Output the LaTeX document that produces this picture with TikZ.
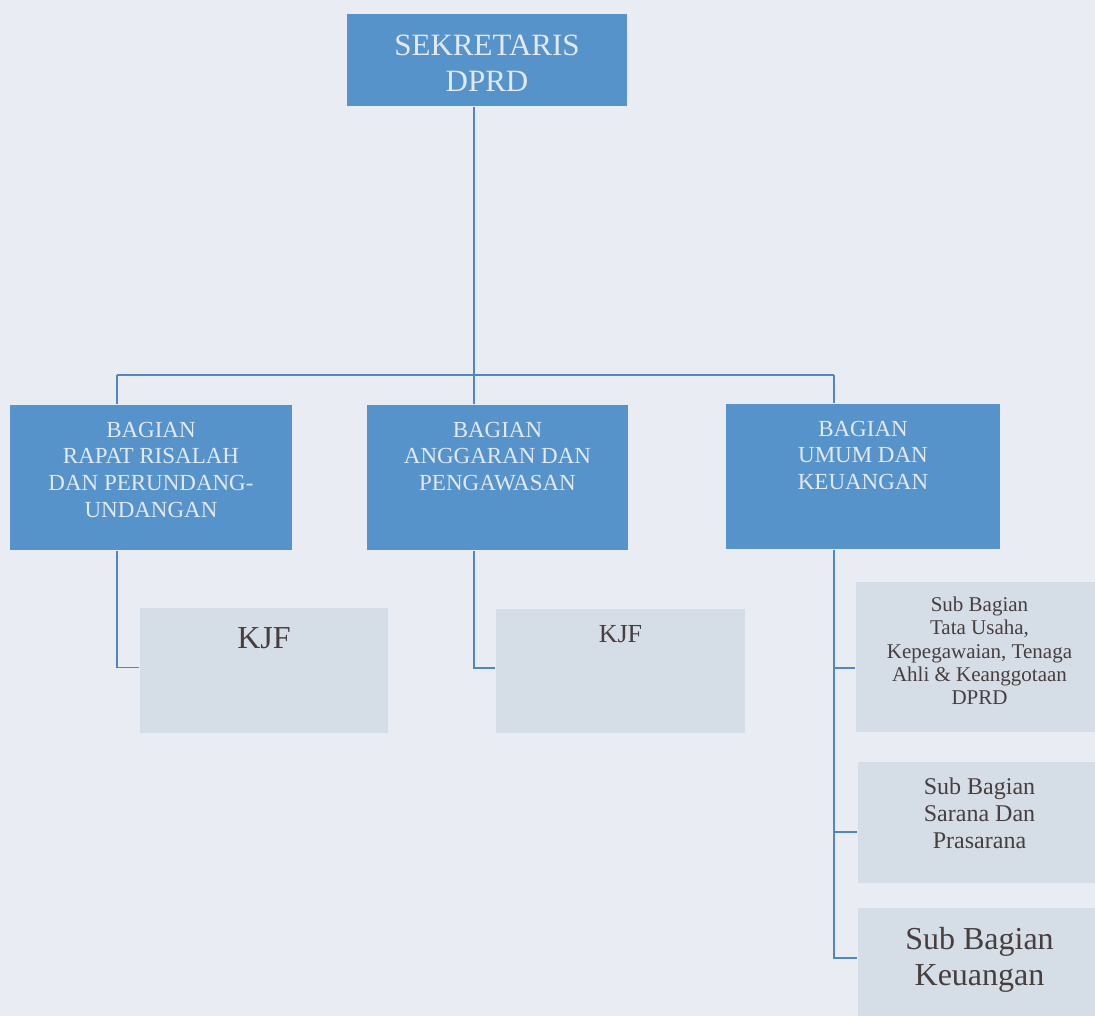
\documentclass[tikz,border=0pt]{standalone}
\usepackage{fontspec}
\setmainfont{Liberation Serif}
\usepackage{tikz}
\usetikzlibrary{positioning}
\usetikzlibrary{calc}
\definecolor{paper}{RGB}{233,237,243}
\definecolor{bagblue}{RGB}{86,147,202}
\definecolor{subgray}{RGB}{213,221,231}
\definecolor{wire}{RGB}{78,136,194}
\definecolor{paletext}{RGB}{226,233,241}
\definecolor{ink}{RGB}{72,62,62}

\begin{document}
\begin{tikzpicture}[x=1pt,y=-1pt]
            \fill[paper] (0,0) rectangle (1095,1016);
            \useasboundingbox (0,0) rectangle (1095,1016);
            \begin{scope}[line width=1.9pt,
                main node/.style={fill=bagblue,inner sep=0pt},
                sub node/.style={fill=subgray,inner sep=0pt},
                main text/.style={anchor=north,inner sep=0pt,align=center,text=paletext,font=\fontsize{23}{26.7}\selectfont},
                sub text/.style={anchor=north,inner sep=0pt,align=center,text=ink}]
            \node[main node,minimum width=280,minimum height=92,
                label={[main text,yshift=-21pt,font=\fontsize{31}{36}\selectfont]north:{SEKRETARIS\\DPRD}}] (1) at (487,60) {};
            \node[main node,minimum width=282,minimum height=145,
                label={[main text,yshift=-17pt]north:{BAGIAN\\RAPAT RISALAH\\DAN PERUNDANG-\\UNDANGAN}}] (2) at (151,477.5) {};
            \node[main node,minimum width=261,minimum height=145,
                label={[main text,yshift=-17pt]north:{BAGIAN\\ANGGARAN DAN\\PENGAWASAN}}] (3) at (497.5,477.5) {};
            \node[main node,minimum width=274,minimum height=145,
                label={[main text,yshift=-17pt]north:{BAGIAN\\UMUM DAN\\KEUANGAN}}] (4) at (863,476.5) {};
            \node[sub node,minimum width=248,minimum height=125,
                label={[sub text,yshift=-20pt,font=\fontsize{32}{36}\selectfont]north:KJF}] (5) at (264,670.5) {};
            \node[sub node,minimum width=249,minimum height=124,
                label={[sub text,yshift=-16pt,font=\fontsize{26}{30}\selectfont]north:KJF}] (6) at (620.5,671) {};
            \node[sub node,minimum width=239,minimum height=150,
                label={[sub text,yshift=-15pt,xshift=4pt,font=\fontsize{21}{23.3}\selectfont]north:{Sub Bagian\\Tata Usaha,\\Kepegawaian, Tenaga\\Ahli \& Keanggotaan\\DPRD}}] (7) at (975.5,657) {};
            \node[sub node,minimum width=237,minimum height=121,
                label={[sub text,yshift=-16pt,xshift=3pt,font=\fontsize{24}{26.7}\selectfont]north:{Sub Bagian\\Sarana Dan\\Prasarana}}] (8) at (976.5,822.5) {};
            \node[sub node,minimum width=237,minimum height=108,
                label={[sub text,yshift=-19pt,xshift=3pt,font=\fontsize{32}{36.7}\selectfont]north:{Sub Bagian\\Keuangan}}] (9) at (976.5,962) {};
            \coordinate (a) at (117,375);
            \coordinate (b) at (474,375);
            \coordinate (c) at (834,375);
            \path[draw=wire]
            (1.south -| b) edge (b |- 3.north)
            (a |- 2.north) edge (a)
            (a) edge (c)
            (c) edge (c |- 4.north)
            (a |- 2.south) edge[to path={|- (\tikztotarget)}] ([yshift=3pt]5.west)
            (b |- 3.south) edge[to path={|- (\tikztotarget)}] ([yshift=3pt]6.west)
            (c |- 4.south) edge[to path={|- (\tikztotarget)}] ([yshift=4pt]9.west)
            ([yshift=-11pt]7.west) edge ([yshift=-11pt]7.west -| c)
            ([yshift=-9.5pt]8.west) edge ([yshift=-9.5pt]8.west -| c);
            \end{scope}
        \end{tikzpicture}
\end{document}
